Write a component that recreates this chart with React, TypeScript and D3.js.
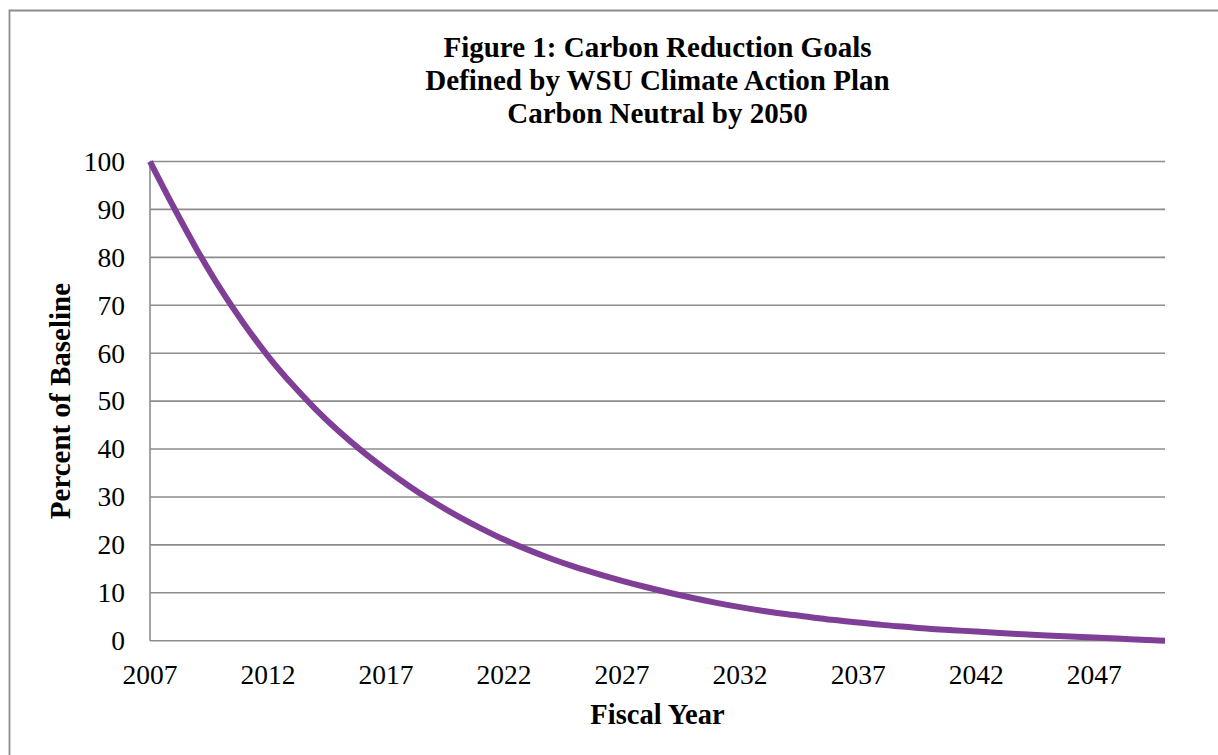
import React from "react";
import * as d3 from "d3";

const titleLines = [
  "Figure 1: Carbon Reduction Goals",
  "Defined by WSU Climate Action Plan",
  "Carbon Neutral by 2050",
];
const xAxisTitle = "Fiscal Year";
const yAxisTitle = "Percent of Baseline";

const years = [
  2007, 2008, 2009, 2010, 2011, 2012, 2013, 2014, 2015, 2016, 2017, 2018, 2019,
  2020, 2021, 2022, 2023, 2024, 2025, 2026, 2027, 2028, 2029, 2030, 2031, 2032,
  2033, 2034, 2035, 2036, 2037, 2038, 2039, 2040, 2041, 2042, 2043, 2044, 2045,
  2046, 2047, 2048, 2049, 2050,
];
const percentOfBaseline = [
  100, 90.5, 81.5, 73.3, 66.0, 59.4, 53.6, 48.4, 43.7, 39.5, 35.7, 32.2, 29.0,
  26.1, 23.5, 21.1, 19.0, 17.1, 15.4, 13.9, 12.5, 11.2, 10.0, 8.9, 7.9, 7.0,
  6.2, 5.5, 4.9, 4.3, 3.8, 3.3, 2.9, 2.5, 2.2, 1.9, 1.6, 1.35, 1.1, 0.9, 0.65,
  0.45, 0.2, 0,
];
const xTickYears = [2007, 2012, 2017, 2022, 2027, 2032, 2037, 2042, 2047];
const yTicks = [0, 10, 20, 30, 40, 50, 60, 70, 80, 90, 100];

const W = 1218;
const H = 755;
const plot = { left: 150, right: 1165, top: 161.5, bottom: 640.7 };
const FONT = "'Liberation Serif', 'Times New Roman', serif";
const GRID = "#8c8c8c";
const LINE = "#803f97";

export default function App() {
  const x = d3.scaleLinear().domain([2007, 2050]).range([plot.left, plot.right]);
  const y = d3.scaleLinear().domain([0, 100]).range([plot.bottom, plot.top]);
  const data = years.map((yr, i) => ({ yr, v: percentOfBaseline[i] }));
  const line = d3
    .line<{ yr: number; v: number }>()
    .x((d) => x(d.yr))
    .y((d) => y(d.v))
    .curve(d3.curveMonotoneX);
  const cx = (plot.left + plot.right) / 2;

  return (
    <svg
      width={W}
      height={H}
      viewBox={`0 0 ${W} ${H}`}
      style={{ position: "absolute", left: 0, top: 0, background: "#fff" }}
    >
      <rect x={0} y={0} width={W} height={H} fill="#fff" />
      <path d={`M9.5,${H} V10.5 H${W}`} fill="none" stroke={GRID} strokeWidth={1.8} />
      <g fontFamily={FONT} fontWeight="bold" fontSize={29} fill="#000" textAnchor="middle">
        {titleLines.map((t, i) => (
          <text key={i} x={cx} y={57 + i * 33}>
            {t}
          </text>
        ))}
      </g>
      <g>
        {yTicks.map((t) => (
          <line
            key={t}
            x1={plot.left}
            x2={plot.right}
            y1={y(t)}
            y2={y(t)}
            stroke={GRID}
            strokeWidth={1.6}
          />
        ))}
        <line
          x1={plot.left}
          x2={plot.left}
          y1={plot.top}
          y2={plot.bottom}
          stroke={GRID}
          strokeWidth={1.6}
        />
      </g>
      <g fontFamily={FONT} fontSize={27.5} fill="#000" textAnchor="end">
        {yTicks.map((t) => (
          <text key={t} x={125} y={y(t)} dy="0.34em">
            {t}
          </text>
        ))}
      </g>
      <g fontFamily={FONT} fontSize={27.5} fill="#000" textAnchor="middle">
        {xTickYears.map((t) => (
          <text key={t} x={x(t)} y={684}>
            {t}
          </text>
        ))}
      </g>
      <path
        d={line(data) || ""}
        fill="none"
        stroke={LINE}
        strokeWidth={6}
        strokeLinecap="butt"
        strokeLinejoin="round"
      />
      <text
        x={cx}
        y={724}
        fontFamily={FONT}
        fontWeight="bold"
        fontSize={28.5}
        textAnchor="middle"
      >
        {xAxisTitle}
      </text>
      <text
        transform={`translate(70, ${(plot.top + plot.bottom) / 2}) rotate(-90)`}
        fontFamily={FONT}
        fontWeight="bold"
        fontSize={29}
        textAnchor="middle"
      >
        {yAxisTitle}
      </text>
    </svg>
  );
}
